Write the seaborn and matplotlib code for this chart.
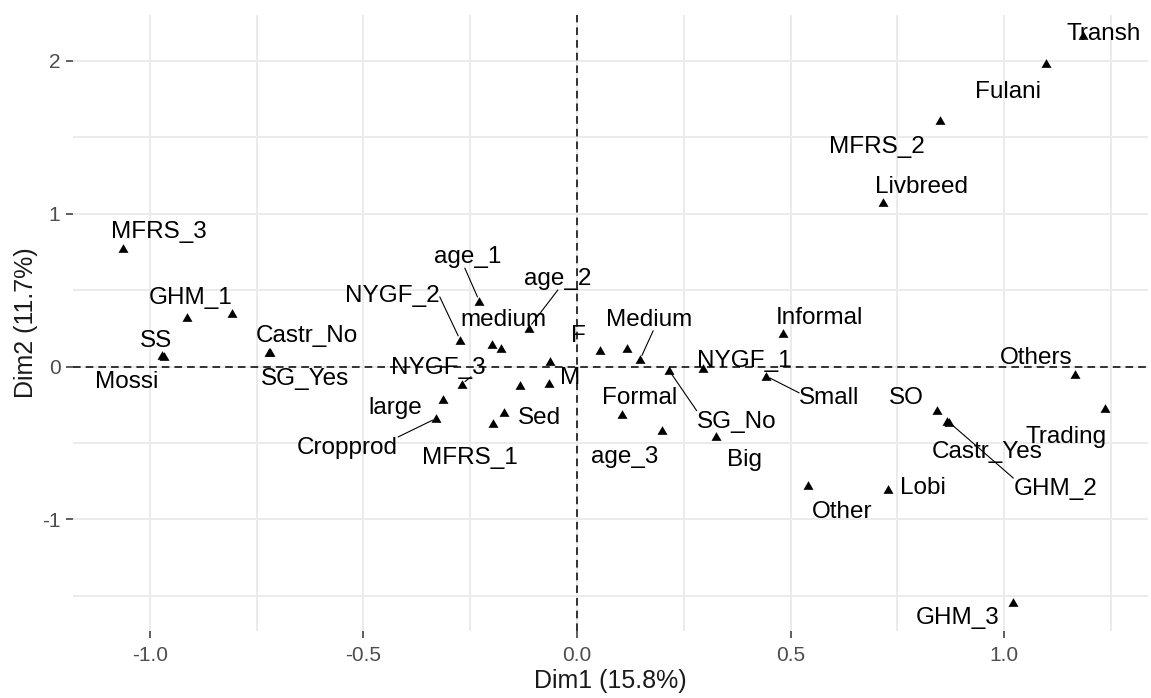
import numpy as np
import pandas as pd
import matplotlib
matplotlib.use("Agg")
import matplotlib.pyplot as plt
import seaborn as sns

# ---------------- data ----------------
categories = ["Transh", "Fulani", "MFRS_2", "Livbreed", "MFRS_3", "GHM_1", "",
              "SS", "Mossi", "Castr_No", "SG_Yes", "age_1", "age_2", "NYGF_2",
              "medium", "", "", "F", "", "Medium", "SG_No", "NYGF_3", "", "M",
              "large", "Cropprod", "Sed", "MFRS_1", "Formal", "age_3", "NYGF_1",
              "Informal", "Small", "Others", "SO", "GHM_2", "Castr_Yes",
              "Trading", "Big", "Other", "Lobi", "GHM_3"]
dim1 = [1.184, 1.098, 0.850, 0.717, -1.064, -0.913, -0.807, -0.971, -0.968,
        -0.721, -0.719, -0.229, -0.112, -0.274, -0.200, -0.179, -0.062, 0.054,
        0.116, 0.148, 0.215, -0.270, -0.133, -0.065, -0.314, -0.329, -0.170,
        -0.196, 0.105, 0.198, 0.296, 0.483, 0.443, 1.166, 0.844, 0.870, 0.866,
        1.237, 0.326, 0.542, 0.729, 1.020]
dim2 = [2.170, 1.985, 1.614, 1.079, 0.774, 0.327, 0.353, 0.076, 0.072, 0.098,
        0.095, 0.431, 0.256, 0.177, 0.148, 0.122, 0.037, 0.109, 0.122, 0.048,
        -0.022, -0.114, -0.117, -0.109, -0.214, -0.338, -0.295, -0.369, -0.308,
        -0.415, -0.011, 0.218, -0.062, -0.048, -0.284, -0.361, -0.355, -0.273,
        -0.454, -0.775, -0.801, -1.539]

x_title = "Dim1 (15.8%)"
y_title = "Dim2 (11.7%)"
x_ticks = [-1.0, -0.5, 0.0, 0.5, 1.0]
x_ticklabels = ["-1.0", "-0.5", "0.0", "0.5", "1.0"]
y_ticks = [-1, 0, 1, 2]
y_ticklabels = ["-1", "0", "1", "2"]

# ---------------- layout (label offsets in pixels: right, down) ----------------
label_offsets = {
    "Transh": (21.1, 5), "Fulani": (-38.2, 35), "MFRS_2": (-63, 32.7),
    "Livbreed": (37.9, -8.4), "MFRS_3": (36.3, -10), "GHM_1": (3.5, -12.7),
    "SS": (-6, -7.7), "Mossi": (-37, 32.3), "Castr_No": (38, -10),
    "SG_Yes": (35, 33), "age_1": (-11, -37.7), "age_2": (28.7, -42.5),
    "NYGF_2": (-67.5, -37.8), "medium": (12.3, -18), "F": (-21.7, -8.3),
    "Medium": (8.7, -33.6), "SG_No": (67.7, 57.7), "NYGF_3": (-23.7, -10),
    "M": (21, 0.7), "large": (-48, 14.7), "Cropprod": (-88.9, 35.7),
    "Sed": (35, 12.6), "MFRS_1": (-23.5, 41.3), "Formal": (17.6, -9.4),
    "age_3": (-36.7, 33.3), "NYGF_1": (41.2, -1), "Informal": (35.9, -9.3),
    "Small": (63.2, 28.3), "Others": (-38.8, -10), "SO": (-31.1, -5.7),
    "GHM_2": (106.7, 73.3), "Castr_Yes": (39.9, 37.2), "Trading": (-38.8, 34.4),
    "Big": (28.2, 29.7), "Other": (33.4, 33.3), "Lobi": (35, 5.3),
    "GHM_3": (-54.7, 22.3),
}
# segment start on the label box (relative position), ggrepel-like
with_segment = {"age_1": (0.45, 0.0), "age_2": (0.5, 0.0), "NYGF_2": (1.0, 0.45),
                "Medium": (0.55, 0.0), "SG_No": (0.0, 1.0), "Cropprod": (1.0, 1.0),
                "Small": (0.0, 0.75), "GHM_2": (0.0, 1.0), "NYGF_3": (0.85, 0.1)}

df = pd.DataFrame({"name": categories, "Dim1": dim1, "Dim2": dim2})

plt.rcParams["font.family"] = ["Liberation Sans", "DejaVu Sans"]
plt.rcParams["axes.unicode_minus"] = False

W, H = 1151, 698
fig = plt.figure(figsize=(W / 100, H / 100), dpi=100)
fig.patch.set_facecolor("white")
ax = fig.add_axes([73 / W, 1 - 631 / H, (1148 - 73) / W, (631 - 15) / H])
ax.set_facecolor("white")

tri = [(0, 0.866), (-1, -0.866), (1, -0.866)]
sns.scatterplot(data=df, x="Dim1", y="Dim2", marker=tri, s=52, color="black",
                linewidth=0, ax=ax, zorder=4, legend=False)

ax.set_xlim(-1.180, 1.337)
ax.set_ylim(-1.730, 2.301)

ax.set_xticks(x_ticks)
ax.set_xticklabels(x_ticklabels)
ax.set_yticks(y_ticks)
ax.set_yticklabels(y_ticklabels)
ax.set_xticks([-0.75, -0.25, 0.25, 0.75, 1.25], minor=True)
ax.set_yticks([-1.5, -0.5, 0.5, 1.5], minor=True)

ax.grid(which="major", color="#EBEBEB", lw=1.4, zorder=0)
ax.grid(which="minor", color="#EBEBEB", lw=1.4, zorder=0)
ax.set_axisbelow(True)
for s in ax.spines.values():
    s.set_visible(False)

ax.tick_params(axis="both", which="major", length=5, width=1.1, color="#333333",
               labelsize=15, labelcolor="#4D4D4D", pad=4)
ax.tick_params(axis="x", which="major", pad=6)
ax.tick_params(axis="both", which="minor", length=0)

dash = (0, (5, 3.3))
ax.axhline(0, color="black", lw=1.1, ls=dash, zorder=2)
ax.axvline(0, color="black", lw=1.1, ls=dash, zorder=2)

for name, x, y in zip(categories, dim1, dim2):
    if not name:
        continue
    dx, dy = label_offsets[name]
    kw = {}
    if name in with_segment:
        kw["arrowprops"] = dict(arrowstyle="-", color="black", lw=0.8,
                                shrinkA=0, shrinkB=3, relpos=with_segment[name],
                                patchA=None)
    ax.annotate(name, xy=(x, y), xytext=(dx, -dy), textcoords="offset pixels",
                ha="center", va="baseline", fontsize=17.5, color="black",
                zorder=5, **kw)

ax.set_xlabel(x_title, fontsize=18, color="#1A1A1A")
ax.set_ylabel(y_title, fontsize=18, color="#1A1A1A")
ax.xaxis.label.set_va("baseline")
ax.xaxis.set_label_coords(0.5, (631 - 688) / 616)
ax.yaxis.label.set_va("baseline")
ax.yaxis.set_label_coords((33 - 73) / 1075, 0.5)

fig.savefig("out.png", dpi=100, facecolor="white")
